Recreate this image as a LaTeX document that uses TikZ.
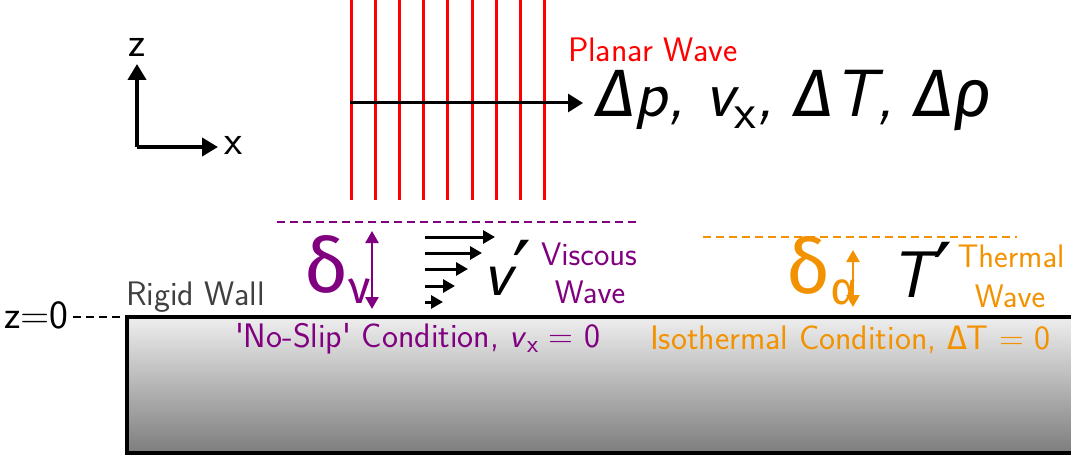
\documentclass[tikz,border=0pt]{standalone}
\usepackage{fontspec}
\renewcommand\familydefault{\sfdefault}
\newfontfamily\grk{Fira Sans}
\newfontfamily\djv{DejaVu Sans}
\usetikzlibrary{arrows.meta}
\definecolor{wavered}{RGB}{255,0,0}
\definecolor{visc}{RGB}{128,0,128}
\definecolor{therm}{RGB}{243,146,0}
\definecolor{wallgray}{RGB}{64,64,64}
\definecolor{walltop}{RGB}{238,238,238}
\definecolor{wallbot}{RGB}{125,125,125}
\newcommand{\vsub}[1]{\textit{v}\raisebox{-0.4ex}{\scalebox{0.75}{#1}}}
\newcommand{\prm}{{\djv\upshape\kern0.02em\raisebox{-3pt}{\fontsize{42}{42}\selectfont ′}}}
\begin{document}
\begin{tikzpicture}[x=0.5pt,y=-0.5pt,
  lbl/.style={inner sep=0pt,outer sep=0pt},
  small/.style={font=\fontsize{16.3}{19}\selectfont},
  cond/.style={font=\fontsize{17}{20}\selectfont},
  axis/.style={line width=2pt,-{Triangle[length=8pt,width=9pt]}},
  redline/.style={wavered,line width=1.5pt},
  dashline/.style={line width=1.3pt,dash pattern=on 4pt off 2.5pt},
  dbl/.style={line width=1.2pt,{Triangle[length=6pt,width=6.5pt]}-{Triangle[length=6pt,width=6.5pt]}},
  flow/.style={line width=1.5pt,-{Triangle[length=6pt,width=6.5pt]}}]
\clip (0,0) rectangle (1071,460);
\useasboundingbox (0,0) rectangle (1071,460);
% wall
\shade[top color=walltop,bottom color=wallbot] (127,317) rectangle (1090,453);
\draw[line width=2pt] (1090,317) -- (127,317) -- (127,453) -- (1090,453);
% axes
\coordinate (O) at (137,147);
\coordinate (zt) at (137,64);
\coordinate (xt) at (218,147);
\draw[axis] (O) -- (zt);
\draw[axis] (O) -- (xt);
\node[lbl,anchor=base,font=\fontsize{21}{24}\selectfont] (zl) at (137,57) {z};
\node[lbl,anchor=base west,font=\fontsize{21}{24}\selectfont] (xl) at (224,155) {x};
% planar wave
\foreach \i/\x in {1/351,2/375,3/399,4/423,5/447,6/472,7/496,8/520,9/544}{
  \coordinate (rt\i) at (\x,0);
  \coordinate (rb\i) at (\x,200);
  \draw[redline] (rt\i) -- (rb\i);
}
\coordinate (ws) at (350,103);
\coordinate (we) at (583,103);
\draw[line width=1.5pt,-{Triangle[length=7.5pt,width=9pt]}] (ws) -- (we);
\node[lbl,anchor=base west,text=wavered,font=\fontsize{17}{20}\selectfont] (pw) at (568,62) {Planar Wave};
\node[lbl,anchor=base west,font=\fontsize{33.5}{38}\selectfont\itshape] (vars) at (596,117)
  {{\grk\itshape Δ}p, \vsub{\upshape x}, {\grk\itshape Δ}T, {\grk\itshape Δρ}};
% viscous layer
\coordinate (pd1) at (277,222);
\coordinate (pd2) at (640,222);
\draw[visc,dashline] (pd1) -- (pd2);
\coordinate (pa1) at (372,231);
\coordinate (pa2) at (372,309);
\draw[visc,dbl] (pa1) -- (pa2);
\node[lbl,anchor=base west,text=visc,font=\fontsize{38}{42}\selectfont] (dn) at (304,292)
  {{\grk δ}\raisebox{-0.35ex}{\fontsize{23}{25}\selectfont\grk ν}};
\foreach \i/\y/\e in {1/237/495,2/253/482,3/269/468,4/286/455,5/302/443}{
  \coordinate (fs\i) at (425,\y);
  \coordinate (fe\i) at (\e,\y);
  \draw[flow] (fs\i) -- (fe\i);
}
\node[lbl,anchor=base west,font=\fontsize{33}{38}\selectfont\itshape] (vp) at (483,295) {v\prm};
\node[lbl,anchor=base,text=visc,small] (vw1) at (589,265) {Viscous};
\node[lbl,anchor=base,text=visc,small] (vw2) at (590,303) {Wave};
% thermal layer
\coordinate (od1) at (703,237);
\coordinate (od2) at (1017,237);
\draw[therm,dashline] (od1) -- (od2);
\coordinate (oa1) at (853,250);
\coordinate (oa2) at (853,307);
\draw[therm,dbl] (oa1) -- (oa2);
\node[lbl,anchor=base west,text=therm,font=\fontsize{38}{42}\selectfont] (da) at (786,293)
  {{\grk δ}\raisebox{-0.35ex}{\fontsize{23}{25}\selectfont\grk α}};
\node[lbl,anchor=base west,font=\fontsize{33}{38}\selectfont\itshape] (tp) at (890,297) {T\prm};
\node[lbl,anchor=base,text=therm,small] (tw1) at (1011,267) {Thermal};
\node[lbl,anchor=base,text=therm,small] (tw2) at (1010,307) {Wave};
% wall labels
\node[lbl,anchor=base west,font=\fontsize{20}{24}\selectfont] (z0) at (4,328) {z=0};
\coordinate (zd) at (127,317);
\draw[dashline,line width=1.3pt] (z0.east |- zd) ++(5,0) -- (zd);
\node[lbl,anchor=base west,text=wallgray,cond] (rw) at (126,305) {Rigid Wall};
\node[lbl,anchor=base west,text=visc,cond] (ns) at (235,347)
  {\textquotesingle No-Slip\textquotesingle{} Condition, \vsub{x} = 0};
\node[lbl,anchor=base west,text=therm,cond] (iso) at (650,349)
  {Isothermal Condition, {\grk Δ}T = 0};
\end{tikzpicture}
\end{document}
